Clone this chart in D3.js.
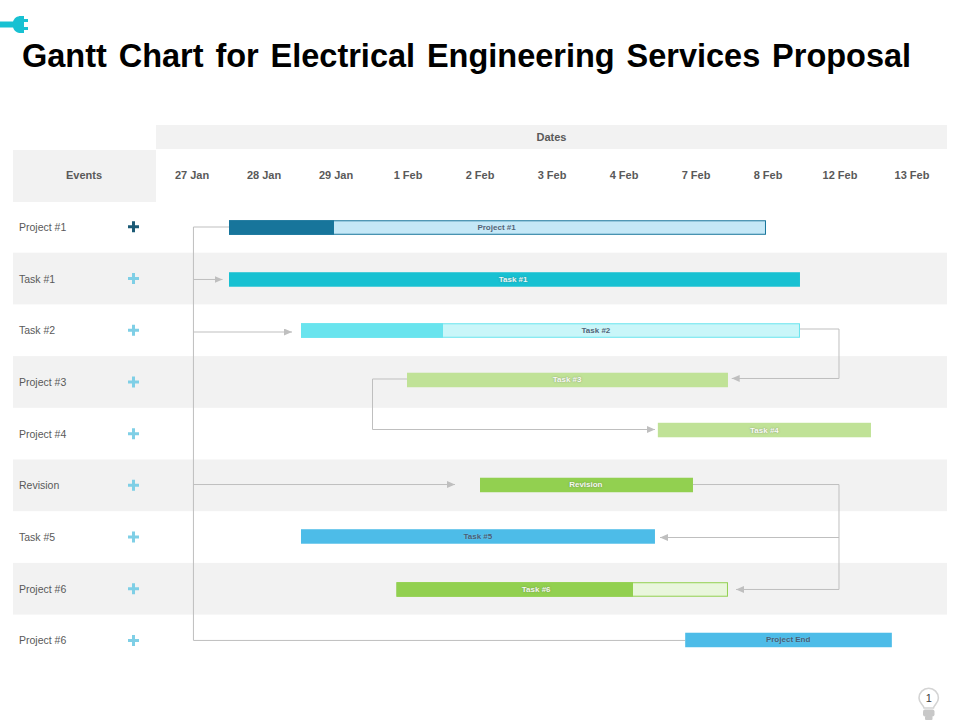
<!DOCTYPE html>
<html><head><meta charset="utf-8">
<script src="https://cdn.jsdelivr.net/npm/d3@7"></script>
<style>
html,body{margin:0;padding:0;background:#fff}
svg{display:block}
text{font-family:"Liberation Sans",Arial,sans-serif}
</style></head><body><div id="c"></div>
<script>
const titleText="Gantt Chart for Electrical Engineering Services Proposal";
const dates=["27 Jan","28 Jan","29 Jan","1 Feb","2 Feb","3 Feb","4 Feb","7 Feb","8 Feb","12 Feb","13 Feb"];
const events=["Project #1","Task #1","Task #2","Project #3","Project #4","Revision","Task #5","Project #6","Project #6"];
const barLabels=["Project #1","Task #1","Task #2","Task #3","Task #4","Revision","Task #5","Task #6","Project End"];
// times are in date-column units, lanes in row units
const starts=[1.014,1.014,2.014,3.486,6.97,4.5,2.014,3.34,7.35];
const dones=[2.472,8.944,3.986,7.944,9.93,7.458,6.93,6.625,10.22];
const ends=[8.472,8.944,8.944,7.944,9.93,7.458,6.93,7.944,10.22];
const labelAt=[4.73,4.96,6.11,5.71,8.45,5.97,4.47,5.28,8.78];
const lanes=[0.513,1.518,2.505,3.462,4.43,5.493,6.489,7.514,8.491];
const darkFill=["#17759b","#18c1d2","#69e4ee","#c0e297","#c0e297","#92d050","#4dbce8","#92d050","#4dbce8"];
const lightFill=["#c5e8f7","#18c1d2","#c9f6f9","#c0e297","#c0e297","#92d050","#4dbce8","#e9f6dc","#4dbce8"];
const labelFill=["#44546a","#fff","#44546a","#fff","#fff","#fff","#44546a","#fff","#44546a"];
const links=[
 {arrow:false,pts:[[1.014,.503],[.52,.503],[.52,8.5],[7.35,8.5]]},
 {arrow:true,pts:[[.52,1.518],[.924,1.518]]},
 {arrow:true,pts:[[.52,2.534],[1.889,2.534]]},
 {arrow:true,pts:[[.52,5.484],[4.153,5.484]]},
 {arrow:true,pts:[[8.944,2.476],[9.486,2.476],[9.486,3.433],[7.996,3.433]]},
 {arrow:true,pts:[[3.486,3.443],[3.007,3.443],[3.007,4.42],[6.93,4.42]]},
 {arrow:true,pts:[[7.458,5.484],[9.486,5.484],[9.486,7.514],[8.056,7.514]]},
 {arrow:true,pts:[[9.486,6.509],[7.0,6.509]]}
];

const svg=d3.select("#c").append("svg").attr("width",960).attr("height",720);
const x=d3.scaleLinear().domain([0,11]).range([156,948]);
const y=d3.scaleLinear().domain([0,9]).range([201,666.3]);
const band=d3.scaleBand().domain(dates).range([156,948]);
const rowIdx=d3.range(events.length);

// plug icon
const plug=svg.append("g").attr("fill","#18c1d2");
plug.append("rect").attr("x",0).attr("y",21.5).attr("width",15).attr("height",6);
plug.append("path").attr("d","M13 22 C14 18 17 16 21 16 L24 16 L24 19 L28 19 L28 22 L24 22 L24 27 L28 27 L28 30 L24 30 L24 33 L21 33 C17 33 14 31 13 27 Z");

svg.append("text").attr("x",22).attr("y",66.5).attr("font-size",32.5).attr("font-weight",700)
 .attr("fill","#000").attr("word-spacing",2.8).text(titleText);

// header bands
svg.append("rect").attr("x",156).attr("y",125).attr("width",791).attr("height",24).attr("fill","#f2f2f2");
svg.append("rect").attr("x",13).attr("y",150).attr("width",143).attr("height",52).attr("fill","#f2f2f2");
svg.append("text").attr("x",551.5).attr("y",141).attr("text-anchor","middle").attr("font-size",11).attr("font-weight",700).attr("fill","#595959").text("Dates");
svg.append("text").attr("x",84).attr("y",179).attr("text-anchor","middle").attr("font-size",11).attr("font-weight",700).attr("fill","#595959").text("Events");

// stripes
svg.append("g").selectAll("rect").data(rowIdx.filter(i=>i%2===1)).join("rect")
 .attr("x",13).attr("width",934).attr("y",i=>y(i)).attr("height",y(1)-y(0)).attr("fill","#f2f2f2");

// date axis
const ax=svg.append("g").attr("transform","translate(0,179)").call(d3.axisTop(band).tickSize(0).tickPadding(0));
ax.select(".domain").remove();
ax.selectAll("text").attr("font-size",11).attr("font-weight",700).attr("fill","#595959").attr("font-family","Liberation Sans").attr("dy",0);

// rows
svg.append("g").selectAll("text").data(events).join("text")
 .attr("x",19).attr("y",(d,i)=>y(i+.5)+4).attr("font-size",10.5).attr("fill","#595959").text(d=>d);
svg.append("g").selectAll("path").data(rowIdx).join("path")
 .attr("d",i=>{const cx=133.5,cy=y(i+.5);return `M${cx-5.5} ${cy}H${cx+5.5}M${cx} ${cy-5.5}V${cy+5.5}`;})
 .attr("stroke",i=>i===0?"#1b5a75":"#7fcfe6").attr("stroke-width",3).attr("fill","none");

// connectors
svg.append("defs").append("marker").attr("id","arr").attr("viewBox","0 0 8 7").attr("refX",8).attr("refY",3.5)
 .attr("markerUnits","userSpaceOnUse").attr("markerWidth",8).attr("markerHeight",7).attr("orient","auto")
 .append("path").attr("d","M0 0L8 3.5L0 7Z").attr("fill","#bfbfbf");
const line=d3.line().x(d=>x(d[0])).y(d=>y(d[1]));
svg.append("g").selectAll("path").data(links).join("path")
 .attr("d",d=>line(d.pts)).attr("fill","none").attr("stroke","#bfbfbf").attr("stroke-width",1)
 .attr("marker-end",d=>d.arrow?"url(#arr)":null);

// bars
const barH=14.5;
const g=svg.append("g");
rowIdx.forEach(i=>{
 const top=y(lanes[i])-barH/2;
 if(ends[i]>dones[i]){
  g.append("rect").attr("x",x(starts[i])+.5).attr("y",top+.5).attr("width",x(ends[i])-x(starts[i])-1).attr("height",barH-1)
   .attr("fill",lightFill[i]).attr("stroke",darkFill[i]).attr("stroke-width",1);
 }
 g.append("rect").attr("x",x(starts[i])).attr("y",top).attr("width",x(dones[i])-x(starts[i])).attr("height",barH).attr("fill",darkFill[i]);
 g.append("text").attr("x",x(labelAt[i])).attr("y",y(lanes[i])+2.5).attr("text-anchor","middle")
  .attr("font-size",8).attr("font-weight",700).attr("fill",labelFill[i]).attr("opacity",.9)
  .style("text-shadow",labelFill[i]==="#fff"?"0 0 1.5px rgba(90,90,90,.7)":"0 0 1.5px rgba(255,255,255,.35)")
  .text(barLabels[i]);
});

// page bulb
const b=svg.append("g");
b.append("path").attr("d","M924 708 C923 704 919 703 919 698 A9.7 9.7 0 1 1 938.4 698 C938.4 703 934.5 704 933.5 708 Z")
 .attr("fill","#fff").attr("stroke","#d4d4d4").attr("stroke-width",1.6);
b.append("rect").attr("x",923).attr("y",709.5).attr("width",11.5).attr("height",7).attr("rx",2).attr("fill","#c8c8c8");
b.append("rect").attr("x",925).attr("y",716).attr("width",7.5).attr("height",4).attr("rx",1).attr("fill","#c8c8c8");
b.append("text").attr("x",928.7).attr("y",702).attr("text-anchor","middle").attr("font-size",11).attr("fill","#404040").text("1");
</script></body></html>
